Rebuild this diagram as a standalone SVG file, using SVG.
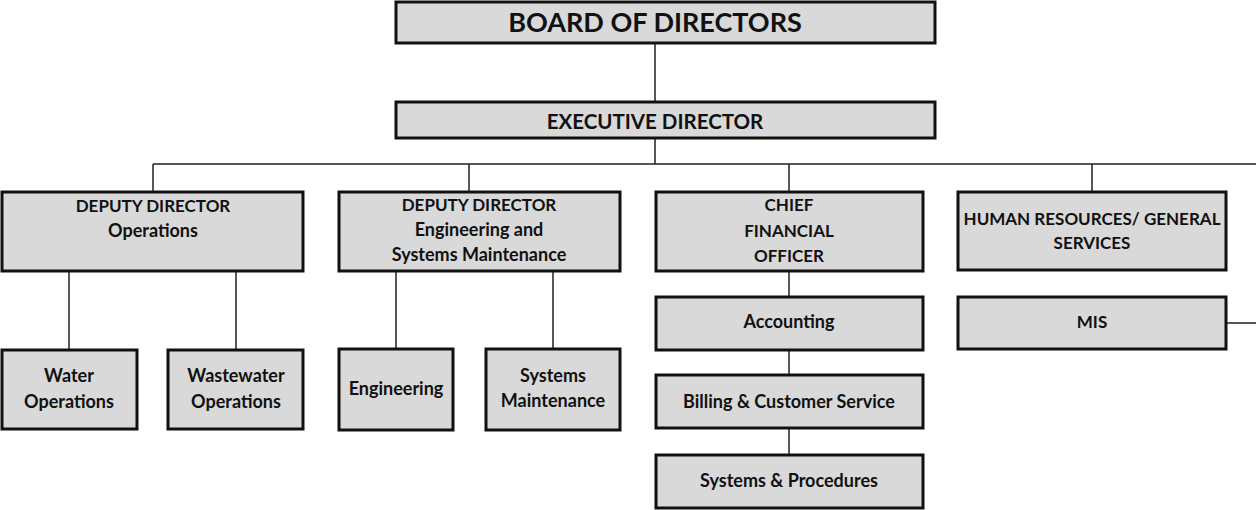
<svg xmlns="http://www.w3.org/2000/svg" width="1256" height="510" viewBox="0 0 1256 510">
<style>
.box{fill:#d9d9d9;stroke:#111;stroke-width:3}
.ln{stroke:#222;stroke-width:1.5;fill:none}
text{font-family:Lato,"Open Sans","Liberation Sans",sans-serif;font-weight:bold;fill:#111;text-anchor:middle}
.t{font-size:18px}
.u{font-size:17px}
.big{font-size:27px}
.mid{font-size:20.5px}
</style>
<rect width="1256" height="510" fill="#fff"/>
<g id="connectors">
<path class="ln" d="M655 43V102M655 138V164M153 164H1256M153 164V192M469 164V192M789 164V192M1092 164V192"/>
<path class="ln" d="M69 271V350M236 271V350M396 271V349M553 271V349"/>
<path class="ln" d="M789 271V297M789 350V375M789 428V455M1226 323H1256"/>
</g>
<g id="board"><rect class="box" x="396" y="2" width="539" height="41"/><text class="big" x="655" y="32">BOARD OF DIRECTORS</text></g>
<g id="exec"><rect class="box" x="396" y="102" width="539" height="36"/><text class="mid" x="655" y="129">EXECUTIVE DIRECTOR</text></g>
<g id="dep-ops"><rect class="box" x="2" y="192" width="301" height="79"/><text class="u" x="153" y="212">DEPUTY DIRECTOR</text><text class="t" x="153" y="237">Operations</text></g>
<g id="dep-eng"><rect class="box" x="339" y="192" width="281" height="79"/><text class="u" x="479" y="211">DEPUTY DIRECTOR</text><text class="t" x="479" y="236">Engineering and</text><text class="t" x="479" y="261">Systems Maintenance</text></g>
<g id="cfo"><rect class="box" x="656" y="192" width="267" height="79"/><text class="u" x="789" y="211">CHIEF</text><text class="u" x="789" y="237">FINANCIAL</text><text class="u" x="789" y="262">OFFICER</text></g>
<g id="hr"><rect class="box" x="958" y="192" width="268" height="78"/><text class="u" x="1092" y="225">HUMAN RESOURCES/ GENERAL</text><text class="u" x="1092" y="249">SERVICES</text></g>
<g id="water"><rect class="box" x="2" y="350" width="135" height="79"/><text class="t" x="69" y="382">Water</text><text class="t" x="69" y="408">Operations</text></g>
<g id="wastewater"><rect class="box" x="168" y="350" width="135" height="79"/><text class="t" x="236" y="382">Wastewater</text><text class="t" x="236" y="408">Operations</text></g>
<g id="engineering"><rect class="box" x="339" y="349" width="114" height="81"/><text class="t" x="396" y="395">Engineering</text></g>
<g id="sysmaint"><rect class="box" x="486" y="349" width="134" height="81"/><text class="t" x="553" y="382">Systems</text><text class="t" x="553" y="407">Maintenance</text></g>
<g id="accounting"><rect class="box" x="656" y="297" width="267" height="53"/><text class="t" x="789" y="328">Accounting</text></g>
<g id="billing"><rect class="box" x="656" y="375" width="267" height="53"/><text class="t" x="789" y="408">Billing &amp; Customer Service</text></g>
<g id="sysproc"><rect class="box" x="656" y="455" width="267" height="53"/><text class="t" x="789" y="487">Systems &amp; Procedures</text></g>
<g id="mis"><rect class="box" x="958" y="297" width="268" height="52"/><text class="u" x="1092" y="328">MIS</text></g>
</svg>
